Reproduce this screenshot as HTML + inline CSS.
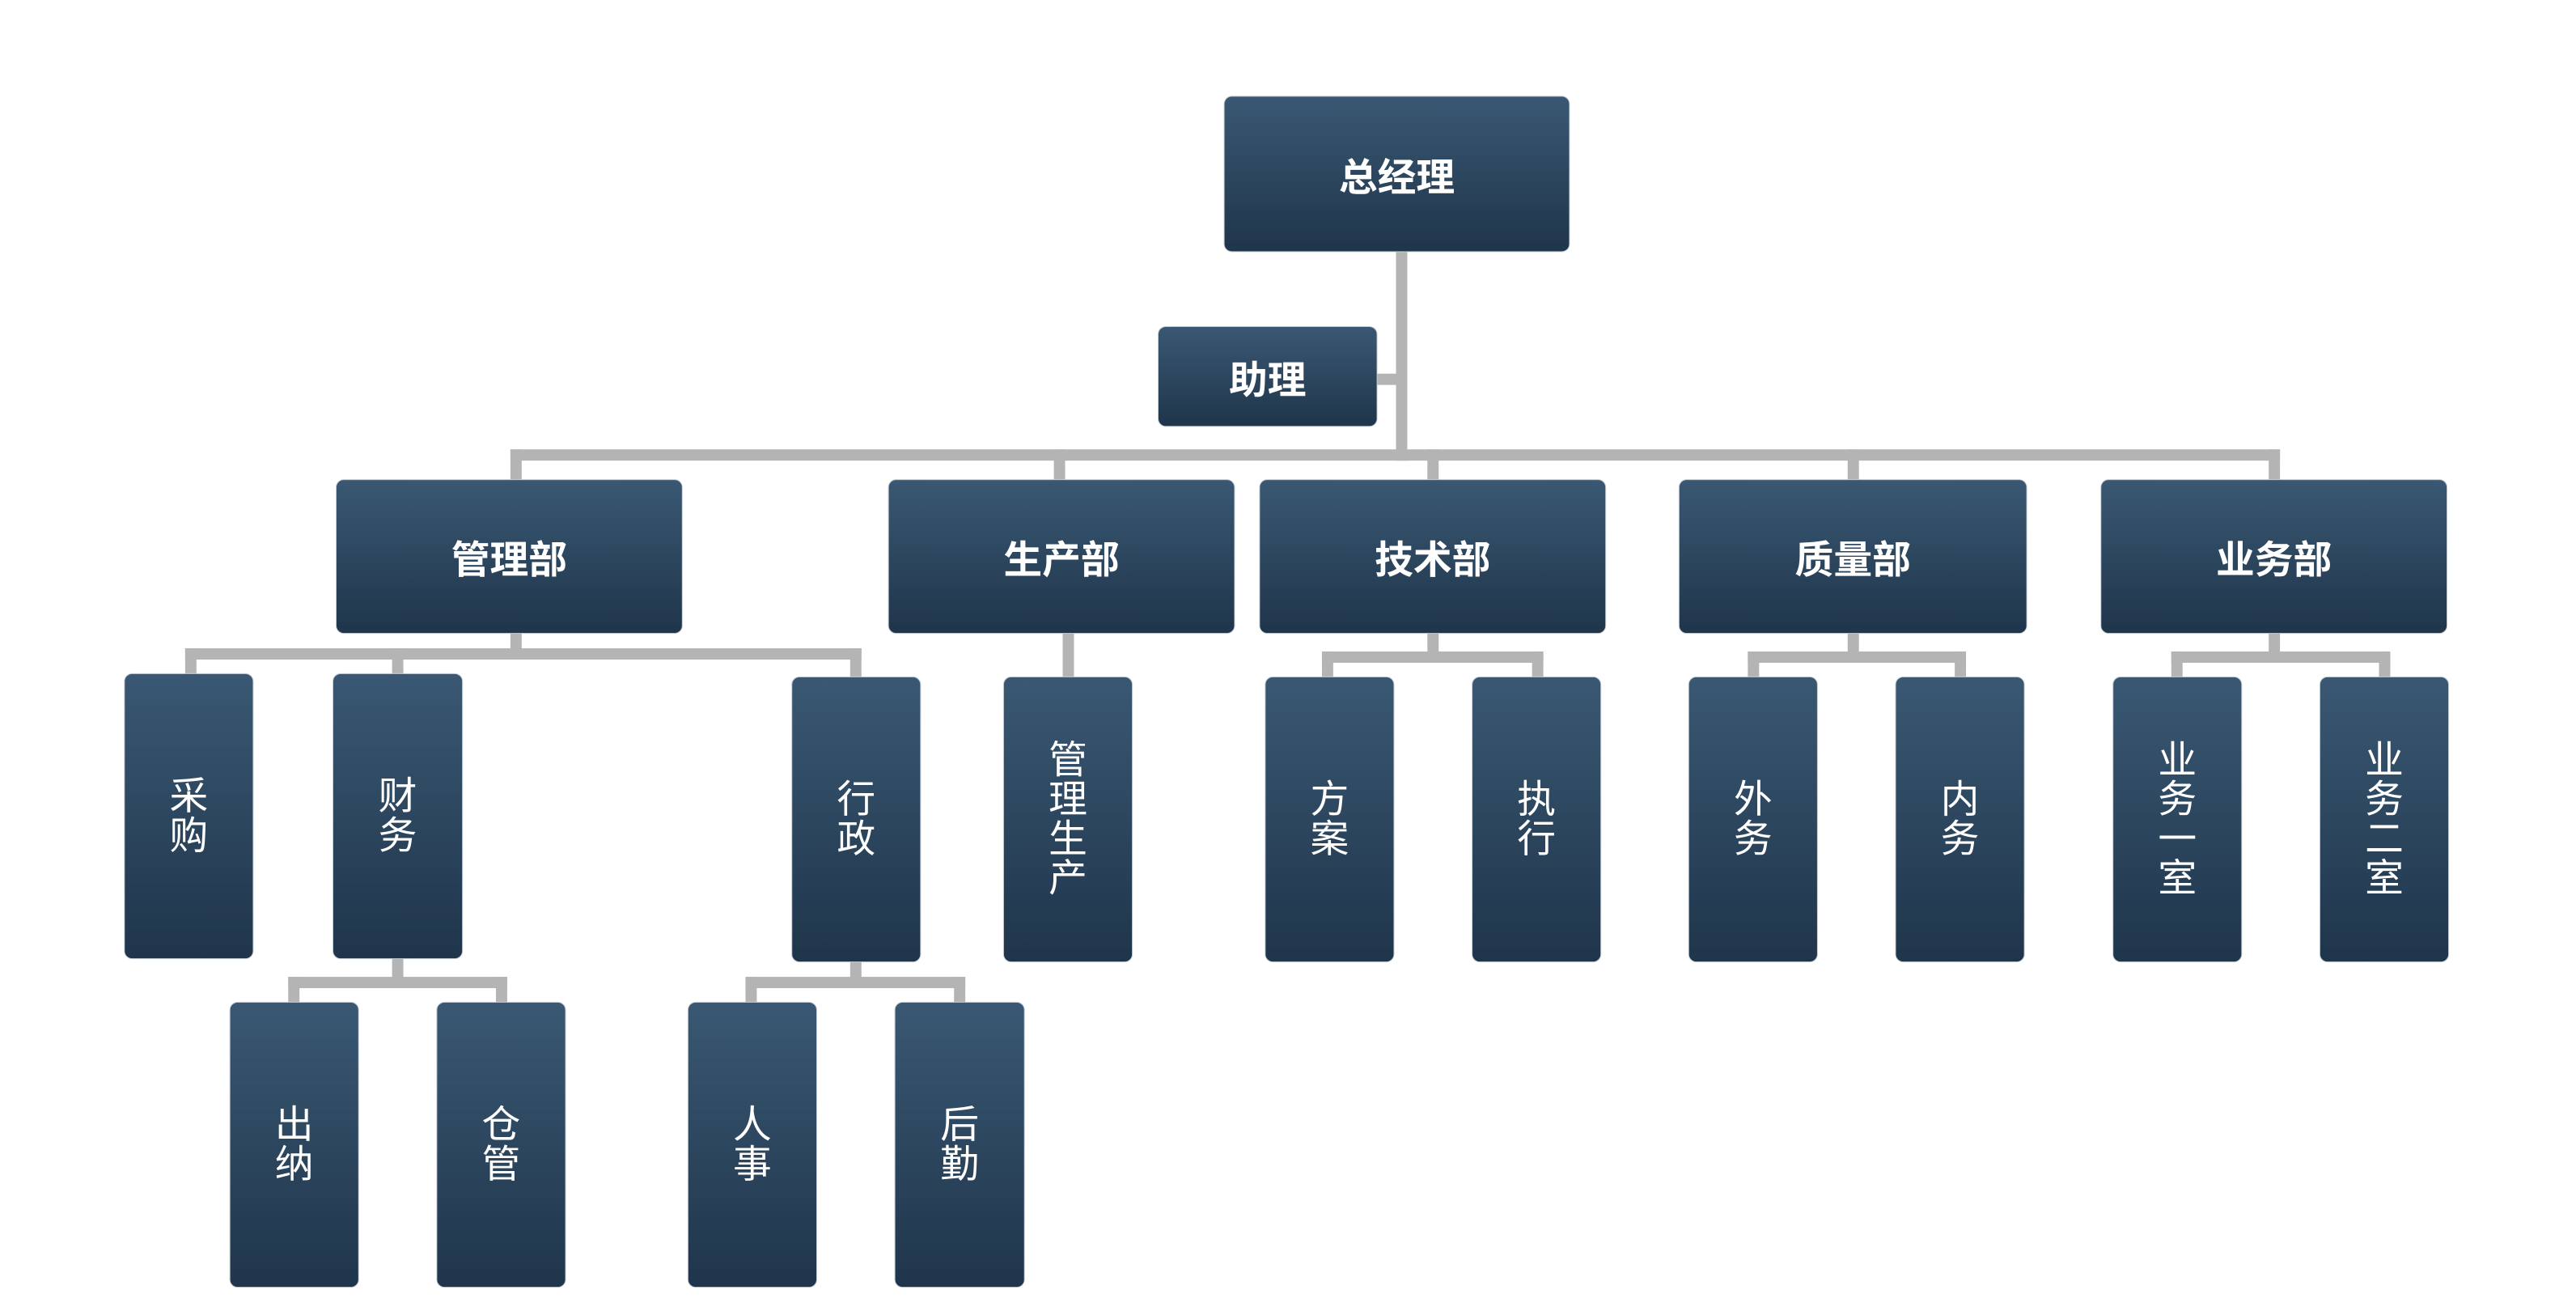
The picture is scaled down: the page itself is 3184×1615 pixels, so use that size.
<!DOCTYPE html>
<html><head><meta charset="utf-8"><style>
body{margin:0;width:3184px;height:1615px;background:#fff;position:relative;overflow:hidden;font-family:"Liberation Sans","Noto Sans CJK SC",sans-serif}
#w{position:absolute;left:0;top:0;width:3184px;height:1615px;transform:scale(0.9951);transform-origin:0 0}
.b{position:absolute;background:linear-gradient(#3a5873,#1f354b);border-radius:9px;color:#fff;display:flex;align-items:center;justify-content:center;text-align:center;box-shadow:0 0 0 1px #c9d0d6}
.h{font-weight:bold;font-size:48px}
.v{font-size:48px;line-height:49px}
.l{position:absolute;background:#b4b4b4}
</style></head><body><div id="w">
<div class="l" style="left:1734px;top:312px;width:14px;height:260px"></div>
<div class="l" style="left:1710px;top:464px;width:31px;height:14px"></div>
<div class="l" style="left:634px;top:558px;width:2198px;height:14px"></div>
<div class="l" style="left:634px;top:558px;width:14px;height:38px"></div>
<div class="l" style="left:1309px;top:558px;width:14px;height:38px"></div>
<div class="l" style="left:1773px;top:558px;width:14px;height:38px"></div>
<div class="l" style="left:2295px;top:558px;width:14px;height:38px"></div>
<div class="l" style="left:2818px;top:558px;width:14px;height:38px"></div>

<div class="l" style="left:634px;top:786px;width:14px;height:30px"></div>
<div class="l" style="left:230px;top:805px;width:840px;height:14px"></div>
<div class="l" style="left:230px;top:805px;width:14px;height:34px"></div>
<div class="l" style="left:487px;top:805px;width:14px;height:34px"></div>
<div class="l" style="left:1056px;top:805px;width:14px;height:38px"></div>

<div class="l" style="left:1320px;top:786px;width:14px;height:56px"></div>

<div class="l" style="left:1773px;top:786px;width:14px;height:34px"></div>
<div class="l" style="left:1642px;top:809px;width:275px;height:14px"></div>
<div class="l" style="left:1642px;top:809px;width:14px;height:34px"></div>
<div class="l" style="left:1903px;top:809px;width:14px;height:34px"></div>

<div class="l" style="left:2295px;top:786px;width:14px;height:34px"></div>
<div class="l" style="left:2171px;top:809px;width:271px;height:14px"></div>
<div class="l" style="left:2171px;top:809px;width:14px;height:34px"></div>
<div class="l" style="left:2428px;top:809px;width:14px;height:34px"></div>

<div class="l" style="left:2818px;top:786px;width:14px;height:34px"></div>
<div class="l" style="left:2697px;top:809px;width:272px;height:14px"></div>
<div class="l" style="left:2697px;top:809px;width:14px;height:34px"></div>
<div class="l" style="left:2955px;top:809px;width:14px;height:34px"></div>

<div class="l" style="left:487px;top:1190px;width:14px;height:34px"></div>
<div class="l" style="left:358px;top:1213px;width:272px;height:14px"></div>
<div class="l" style="left:358px;top:1213px;width:14px;height:33px"></div>
<div class="l" style="left:616px;top:1213px;width:14px;height:33px"></div>

<div class="l" style="left:1056px;top:1194px;width:14px;height:30px"></div>
<div class="l" style="left:926px;top:1213px;width:273px;height:14px"></div>
<div class="l" style="left:926px;top:1213px;width:14px;height:33px"></div>
<div class="l" style="left:1185px;top:1213px;width:14px;height:33px"></div>

<div class="b h" style="left:1521px;top:120px;width:428px;height:192px">总经理</div>
<div class="b h" style="left:1439px;top:406px;width:271px;height:123px">助理</div>

<div class="b h" style="left:418px;top:596px;width:429px;height:190px">管理部</div>
<div class="b h" style="left:1104px;top:596px;width:429px;height:190px">生产部</div>
<div class="b h" style="left:1565px;top:596px;width:429px;height:190px">技术部</div>
<div class="b h" style="left:2086px;top:596px;width:431px;height:190px">质量部</div>
<div class="b h" style="left:2610px;top:596px;width:429px;height:190px">业务部</div>

<div class="b v" style="left:155px;top:837px;width:159px;height:353px">采<br>购</div>
<div class="b v" style="left:414px;top:837px;width:160px;height:353px">财<br>务</div>
<div class="b v" style="left:984px;top:841px;width:159px;height:353px">行<br>政</div>
<div class="b v" style="left:1247px;top:841px;width:159px;height:353px">管<br>理<br>生<br>产</div>
<div class="b v" style="left:1572px;top:841px;width:159px;height:353px">方<br>案</div>
<div class="b v" style="left:1829px;top:841px;width:159px;height:353px">执<br>行</div>
<div class="b v" style="left:2098px;top:841px;width:159px;height:353px">外<br>务</div>
<div class="b v" style="left:2355px;top:841px;width:159px;height:353px">内<br>务</div>
<div class="b v" style="left:2625px;top:841px;width:159px;height:353px">业<br>务<br>一<br>室</div>
<div class="b v" style="left:2882px;top:841px;width:159px;height:353px">业<br>务<br>二<br>室</div>

<div class="b v" style="left:286px;top:1245px;width:159px;height:353px">出<br>纳</div>
<div class="b v" style="left:543px;top:1245px;width:159px;height:353px">仓<br>管</div>
<div class="b v" style="left:855px;top:1245px;width:159px;height:353px">人<br>事</div>
<div class="b v" style="left:1112px;top:1245px;width:160px;height:353px">后<br>勤</div>
</div></body></html>
